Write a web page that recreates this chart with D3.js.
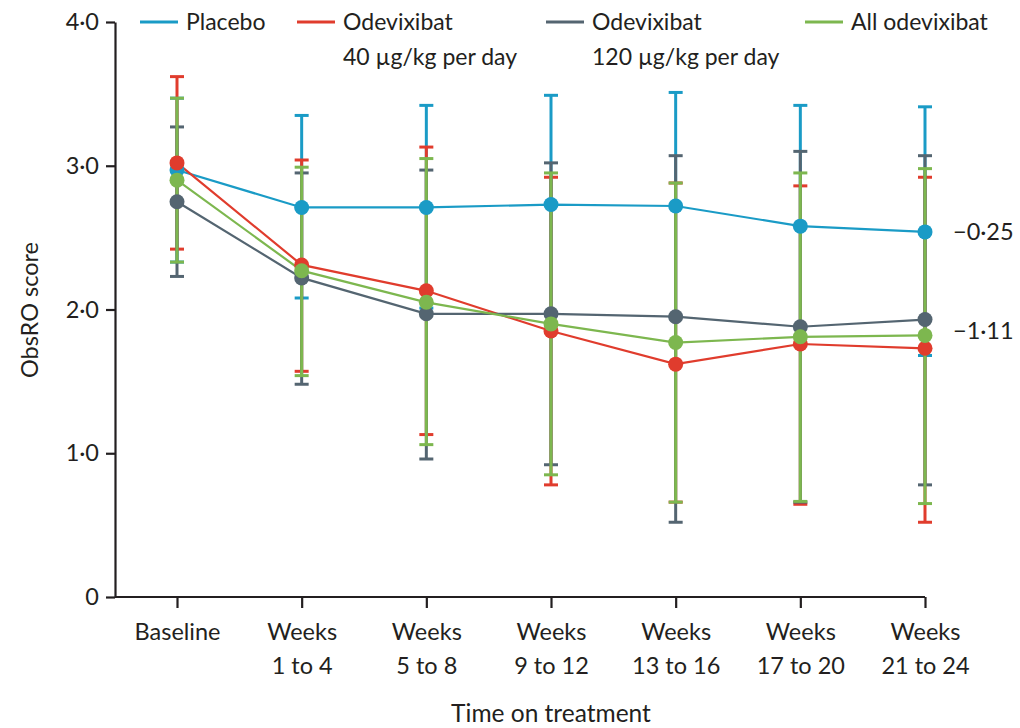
<!DOCTYPE html>
<html>
<head>
<meta charset="utf-8">
<script src="https://cdn.jsdelivr.net/npm/d3@7"></script>
<style>
  html, body { margin: 0; padding: 0; background: #fff; }
  svg { display: block; }
  text { font-family: "Lato", "Liberation Sans", sans-serif; fill: #231f20; }
</style>
</head>
<body>
<svg id="chart" width="1020" height="728"></svg>
<script>
// ---- data ----
const categories = ["Baseline", "Weeks 1 to 4", "Weeks 5 to 8", "Weeks 9 to 12", "Weeks 13 to 16", "Weeks 17 to 20", "Weeks 21 to 24"];
const categoryLines = [["Baseline"], ["Weeks", "1 to 4"], ["Weeks", "5 to 8"], ["Weeks", "9 to 12"], ["Weeks", "13 to 16"], ["Weeks", "17 to 20"], ["Weeks", "21 to 24"]];
const yTicks = [0, 1, 2, 3, 4];
const yTickLabels = ["0", "1·0", "2·0", "3·0", "4·0"];

const seriesNames = ["Placebo", "Odevixibat 40 µg/kg per day", "Odevixibat 120 µg/kg per day", "All odevixibat"];
const legendLines = [["Placebo"], ["Odevixibat", "40 µg/kg per day"], ["Odevixibat", "120 µg/kg per day"], ["All odevixibat"]];
const seriesColors = ["#1a9bc6", "#e03c2d", "#546571", "#7db74f"];

const placeboMean  = [2.97, 2.71, 2.71, 2.73, 2.72, 2.58, 2.54];
const placeboUpper = [3.47, 3.35, 3.42, 3.49, 3.51, 3.42, 3.41];
const placeboLower = [2.33, 2.08, 2.01, 1.97, 1.95, 1.88, 1.68];

const odv40Mean  = [3.02, 2.31, 2.13, 1.85, 1.62, 1.76, 1.73];
const odv40Upper = [3.62, 3.04, 3.13, 2.92, 2.88, 2.86, 2.92];
const odv40Lower = [2.42, 1.57, 1.13, 0.78, 0.66, 0.645, 0.52];

const odv120Mean  = [2.75, 2.22, 1.97, 1.97, 1.95, 1.88, 1.93];
const odv120Upper = [3.27, 2.95, 2.97, 3.02, 3.07, 3.10, 3.07];
const odv120Lower = [2.23, 1.48, 0.96, 0.92, 0.52, 0.66, 0.78];

const allMean  = [2.90, 2.27, 2.05, 1.90, 1.77, 1.81, 1.82];
const allUpper = [3.47, 2.99, 3.05, 2.95, 2.88, 2.95, 2.98];
const allLower = [2.33, 1.54, 1.06, 0.85, 0.66, 0.665, 0.65];

const endLabels = ["−0·25", "−1·11"];
const endLabelValues = [2.54, 1.85];

const series = [
  { mean: placeboMean, upper: placeboUpper, lower: placeboLower },
  { mean: odv40Mean, upper: odv40Upper, lower: odv40Lower },
  { mean: odv120Mean, upper: odv120Upper, lower: odv120Lower },
  { mean: allMean, upper: allUpper, lower: allLower }
];

// ---- layout ----
const svg = d3.select("#chart");
const x = d3.scalePoint().domain(categories).range([177, 925]);
const y = d3.scaleLinear().domain([0, 4]).range([597, 22]);
const axisLeftX = 115;
const fsTick = 23.5;
const fsLegend = 23;
const fsTitle = 24.5;

// y axis
const gy = svg.append("g").attr("transform", `translate(${axisLeftX},0)`);
gy.call(d3.axisLeft(y).tickValues(yTicks).tickFormat((d, i) => yTickLabels[i]).tickSize(9).tickSizeOuter(0).tickPadding(7));
gy.select(".domain").attr("stroke", "#231f20").attr("stroke-width", 2.2);
gy.selectAll(".tick line").attr("stroke", "#231f20").attr("stroke-width", 2.2);
gy.selectAll(".tick text").style("font-size", fsTick + "px").attr("fill", "#231f20").style("font-family", null);

// x axis
const gx = svg.append("g").attr("transform", `translate(0,${y(0)})`);
gx.call(d3.axisBottom(x).tickSize(11).tickSizeOuter(0).tickFormat(""));
gx.select(".domain").attr("d", `M${axisLeftX},0H${x(categories[categories.length - 1])}`).attr("stroke", "#231f20").attr("stroke-width", 2.2);
gx.selectAll(".tick line").attr("stroke", "#231f20").attr("stroke-width", 2.2);
gx.selectAll(".tick").each(function(d, i) {
  const t = d3.select(this).append("text").attr("text-anchor", "middle").attr("fill", "#231f20").style("font-size", fsTick + "px");
  categoryLines[i].forEach((ln, j) => {
    t.append("tspan").attr("x", 0).attr("y", 43 + j * 34).text(ln);
  });
});

// axis titles
svg.append("text").attr("x", 551).attr("y", 722).attr("text-anchor", "middle").style("font-size", fsTitle + "px").text("Time on treatment");
svg.append("text").attr("transform", "translate(38,310) rotate(-90)").attr("text-anchor", "middle").style("font-size", fsTick + "px").text("ObsRO score");

// error bars
const capHalf = 7;
series.forEach((s, si) => {
  const g = svg.append("g").attr("stroke", seriesColors[si]).attr("stroke-width", 3);
  categories.forEach((c, i) => {
    const cx = x(c);
    g.append("line").attr("x1", cx).attr("x2", cx).attr("y1", y(s.upper[i])).attr("y2", y(s.lower[i]));
    g.append("line").attr("x1", cx - capHalf).attr("x2", cx + capHalf).attr("y1", y(s.upper[i])).attr("y2", y(s.upper[i]));
    g.append("line").attr("x1", cx - capHalf).attr("x2", cx + capHalf).attr("y1", y(s.lower[i])).attr("y2", y(s.lower[i]));
  });
});

// lines
const lineGen = d3.line().x((d, i) => x(categories[i])).y(d => y(d));
series.forEach((s, si) => {
  svg.append("path").attr("d", lineGen(s.mean)).attr("fill", "none").attr("stroke", seriesColors[si]).attr("stroke-width", 2.2);
});

// dots
series.forEach((s, si) => {
  svg.append("g").selectAll("circle").data(s.mean).join("circle")
    .attr("cx", (d, i) => x(categories[i])).attr("cy", d => y(d)).attr("r", 7.5)
    .attr("fill", seriesColors[si]);
});

// end labels
endLabels.forEach((t, i) => {
  svg.append("text").attr("x", 953).attr("y", y(endLabelValues[i]) + 8).style("font-size", fsTick + "px").text(t);
});

// legend
const legendX = [140, 297, 546, 805];
legendLines.forEach((lines, i) => {
  const lx = legendX[i];
  svg.append("line").attr("x1", lx).attr("x2", lx + 38).attr("y1", 22).attr("y2", 22)
    .attr("stroke", seriesColors[i]).attr("stroke-width", 3);
  const t = svg.append("text").style("font-size", fsLegend + "px");
  lines.forEach((ln, j) => {
    t.append("tspan").attr("x", lx + 46).attr("y", 30 + j * 35).text(ln);
  });
});
</script>
</body>
</html>
